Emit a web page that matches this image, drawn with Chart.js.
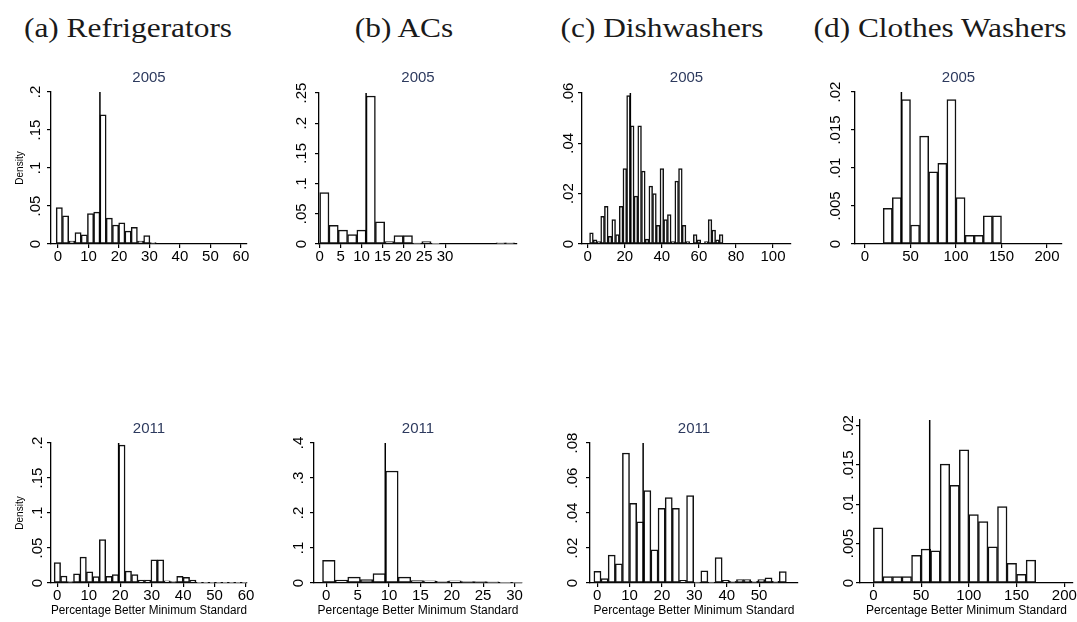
<!DOCTYPE html>
<html>
<head>
<meta charset="utf-8">
<script src="https://cdn.jsdelivr.net/npm/chart.js@4.4.1/dist/chart.umd.min.js"></script>
<style>
  body { margin: 0; width: 1077px; height: 622px; overflow: hidden; background: #fff; position: relative; }
  canvas { position: absolute; }
  .head { position: absolute; top: 12px; line-height: 32px; font-family: 'Liberation Serif', 'DejaVu Serif', serif;
          font-size: 28px; color: #1a1a1a; white-space: nowrap; transform: translateX(-50%) scaleX(1.12); }
</style>
</head>
<body>
<div class="head" style="left:128px">(a) Refrigerators</div>
<div class="head" style="left:404px">(b) ACs</div>
<div class="head" style="left:662px">(c) Dishwashers</div>
<div class="head" style="left:940px">(d) Clothes Washers</div>

<canvas id="fridge2005"></canvas>
<canvas id="ac2005"></canvas>
<canvas id="dish2005"></canvas>
<canvas id="washer2005"></canvas>
<canvas id="fridge2011"></canvas>
<canvas id="ac2011"></canvas>
<canvas id="dish2011"></canvas>
<canvas id="washer2011"></canvas>

<script>
// histogram data: bin origin, bin width, density per bin, position of the vertical marker line
const fridge2005Start = -0.6;
const fridge2005BinWidth = 2.05;
const fridge2005Density = [0.048, 0.037, 0.004, 0.015, 0.012, 0.040, 0.042, 0.170, 0.034, 0.025, 0.028, 0.017, 0.022, 0.004, 0.011, 0.002];
const fridge2005Marker = 13.75;

const fridge2011Start = -1;
const fridge2011BinWidth = 2.05;
const fridge2011Density = [0.029, 0.010, 0.002, 0.013, 0.037, 0.016, 0.009, 0.062, 0.0095, 0.012, 0.197, 0.017, 0.012, 0.004, 0.004, 0.033, 0.033, 0.003, 0.002, 0.0095, 0.008, 0.004, 0.001, 0.001, 0.001, 0.001, 0.001, 0.001, 0.001, 0.001];
const fridge2011Marker = 19.5;

const ac2005Start = 0;
const ac2005BinWidth = 2.22;
const ac2005Density = [0.085, 0.031, 0.023, 0.0155, 0.023, 0.245, 0.0365, 0.004, 0.014, 0.014, 0.0015, 0.004, 0.001, 0, 0, 0, 0, 0, 0, 0.002, 0.002];
const ac2005Marker = 11.1;

const ac2011Start = -0.6;
const ac2011BinWidth = 2.01;
const ac2011Density = [0.065, 0.008, 0.017, 0.0095, 0.027, 0.32, 0.017, 0.007, 0.006, 0.005, 0.006, 0.004, 0.004, 0.003, 0.002, 0.001];
const ac2011Marker = 9.4;

const dish2005Start = 1;
const dish2005BinWidth = 2;
const dish2005Density = [0.0044, 0.0017, 0.001, 0.011, 0.015, 0.003, 0.0097, 0.0037, 0.015, 0.030, 0.059, 0.047, 0.019, 0.047, 0.029, 0.002,
                         0.023, 0.020, 0.0074, 0.030, 0.0097, 0.0117, 0.001, 0.025, 0.030, 0.0074, 0.001, 0, 0.0037, 0.0017, 0, 0.001,
                         0.0097, 0.0055, 0.0017, 0.0037];
const dish2005Marker = 23;

const dish2011Start = -1;
const dish2011BinWidth = 2.2;
const dish2011Density = [0.0067, 0.0025, 0.0159, 0.011, 0.0743, 0.0455, 0.035, 0.0528, 0.019, 0.0427, 0.0488, 0.0427, 0.0015, 0.050,
                         0.0005, 0.0069, 0.0005, 0.0145, 0.0015, 0.001, 0.002, 0.002, 0.001, 0.002, 0.003, 0.001, 0.0065];
const dish2011Marker = 14.2;

const washer2005Start = 20;
const washer2005BinWidth = 10;
const washer2005Density = [0.0047, 0.0061, 0.019, 0.0025, 0.0142, 0.0095, 0.0106, 0.019, 0.0061, 0.00115, 0.00115, 0.0037, 0.0037];
const washer2005Marker = 40;

const washer2011Start = 0;
const washer2011BinWidth = 10;
const washer2011Density = [0.0070, 0.0008, 0.0008, 0.0008, 0.0035, 0.0043, 0.0041, 0.0151, 0.0124, 0.0169, 0.0087, 0.0078, 0.0046, 0.0097, 0.0025, 0.0011, 0.0029];
const washer2011Marker = 59;

// tick labels
const fridgeXTicks = [0, 10, 20, 30, 40, 50, 60];
const fridgeYTicks = [0, 0.05, 0.1, 0.15, 0.2];
const ac2005XTicks = [0, 5, 10, 15, 20, 25, 30];
const ac2011XTicks = [0, 5, 10, 15, 20, 25, 30];
const ac2005YTicks = [0, 0.05, 0.1, 0.15, 0.2, 0.25];
const ac2011YTicks = [0, 0.1, 0.2, 0.3, 0.4];
const dish2005XTicks = [0, 20, 40, 60, 80, 100];
const dish2011XTicks = [0, 10, 20, 30, 40, 50];
const dish2005YTicks = [0, 0.02, 0.04, 0.06];
const dish2011YTicks = [0, 0.02, 0.04, 0.06, 0.08];
const washerXTicks = [0, 50, 100, 150, 200];
const washerYTicks = [0, 0.005, 0.01, 0.015, 0.02];

const sansFont = "'Liberation Sans', Arial, sans-serif";
const tickFont = "'Liberation Sans Narrow', 'Liberation Sans', Arial, sans-serif";
const tickSize = 15;

function fmtTick(v) {
  return v === 0 ? '0' : String(v).replace(/^0\./, '.');
}

const measureCtx = document.createElement('canvas').getContext('2d');
function widestLabel(values) {
  measureCtx.font = tickSize + 'px ' + tickFont;
  return Math.max(...values.map(v => measureCtx.measureText(fmtTick(v)).width));
}

function makePanel(id, p) {
  const canvas = document.getElementById(id);
  const padRight = Math.min(12, 1077 - p.plotR);
  const xAxisH = p.xTitle ? 622 - p.plotB : 30;
  const yAxisW = p.plotL - p.colLeft;
  canvas.width = p.plotR - p.colLeft + padRight;
  canvas.height = p.plotB - p.rowTop + xAxisH;
  canvas.style.left = p.colLeft + 'px';
  canvas.style.top = p.rowTop + 'px';

  const bars = p.density.map((d, i) => ({ x: p.start + p.binWidth * (i + 0.5), y: d }));
  const titlePadTop = p.titleY ? p.titleY - p.rowTop - 9 : 0;

  new Chart(canvas.getContext('2d'), {
    type: 'bar',
    data: {
      datasets: [
        {
          type: 'line',
          order: 0,
          data: [{ x: p.marker, y: 0 }, { x: p.marker, y: p.ymax }],
          borderColor: '#000',
          borderWidth: 1.5,
          pointRadius: 0,
          fill: false,
        },
        {
          type: 'bar',
          order: 1,
          data: bars,
          backgroundColor: '#fff',
          borderColor: '#111',
          borderWidth: 1.5,
          borderSkipped: false,
          barPercentage: 1,
          categoryPercentage: 1,
        },
      ],
    },
    options: {
      responsive: false,
      animation: false,
      devicePixelRatio: 1,
      events: [],
      layout: { padding: { left: 0, right: padRight, top: p.titleY ? 0 : p.plotT - p.rowTop, bottom: 0 } },
      plugins: {
        legend: { display: false },
        tooltip: { enabled: false },
        title: p.titleY ? {
          display: true,
          text: p.title,
          fullSize: false,
          color: '#2d3a5e',
          font: { family: sansFont, size: 15, weight: 'normal', lineHeight: 1.2 },
          padding: { top: titlePadTop, bottom: p.plotT - p.rowTop - 18 - titlePadTop },
        } : { display: false },
      },
      scales: {
        x: {
          type: 'linear',
          min: p.xmin,
          max: p.xmax,
          offset: false,
          afterBuildTicks: s => { s.ticks = p.xTicks.map(v => ({ value: v })); },
          afterFit: s => { s.height = xAxisH; },
          ticks: {
            autoSkip: false, minRotation: 0, maxRotation: 0, padding: 0, color: '#000',
            font: { family: tickFont, size: tickSize, lineHeight: 1.2 },
            callback: v => fmtTick(v),
          },
          grid: { display: true, drawOnChartArea: false, drawTicks: true, tickLength: 4, color: '#000', lineWidth: 1.2, offset: false },
          border: { display: true, color: '#000', width: 1.3 },
          title: p.xTitle ? {
            display: true, text: 'Percentage Better Minimum Standard', color: '#000',
            font: { family: sansFont, size: 12, lineHeight: 1.2 }, padding: { top: 0, bottom: 4 },
          } : { display: false },
        },
        y: {
          type: 'linear',
          min: 0,
          max: p.ymax,
          afterBuildTicks: s => { s.ticks = p.yTicks.map(v => ({ value: v })); },
          afterFit: s => { s.width = yAxisW; },
          ticks: {
            autoSkip: false, minRotation: 90, maxRotation: 90, crossAlign: 'center', color: '#000',
            padding: p.labelOffset - 4 - widestLabel(p.yTicks) / 2,
            font: { family: tickFont, size: tickSize, lineHeight: 1.2 },
            callback: v => fmtTick(v),
          },
          grid: { display: true, drawOnChartArea: false, drawTicks: true, tickLength: 4, color: '#000', lineWidth: 1.2 },
          border: { display: true, color: '#000', width: 1.3 },
          title: p.densityTitle ? {
            display: true, text: 'Density', color: '#000',
            font: { family: sansFont, size: 10, lineHeight: 1.2 }, padding: { top: 14, bottom: 0 },
          } : { display: false },
        },
      },
    },
  });
}

// top row (2005)
makePanel('fridge2005', {
  colLeft: 0, rowTop: 60, plotL: 51, plotR: 247, plotT: 92, plotB: 244, titleY: 78, title: '2005',
  xmin: -2.3, xmax: 62, ymax: 0.2, xTicks: fridgeXTicks, yTicks: fridgeYTicks, labelOffset: 15,
  start: fridge2005Start, binWidth: fridge2005BinWidth, density: fridge2005Density, marker: fridge2005Marker,
  densityTitle: true, xTitle: false,
});
makePanel('ac2005', {
  colLeft: 270, rowTop: 60, plotL: 319, plotR: 517, plotT: 93, plotB: 244, titleY: 78, title: '2005',
  xmin: -0.17, xmax: 47.2, ymax: 0.25, xTicks: ac2005XTicks, yTicks: ac2005YTicks, labelOffset: 17,
  start: ac2005Start, binWidth: ac2005BinWidth, density: ac2005Density, marker: ac2005Marker,
  densityTitle: false, xTitle: false,
});
makePanel('dish2005', {
  colLeft: 540, rowTop: 60, plotL: 582, plotR: 791, plotT: 93, plotB: 244, titleY: 78, title: '2005',
  xmin: -3.1, xmax: 109.7, ymax: 0.06, xTicks: dish2005XTicks, yTicks: dish2005YTicks, labelOffset: 13,
  start: dish2005Start, binWidth: dish2005BinWidth, density: dish2005Density, marker: dish2005Marker,
  densityTitle: false, xTitle: false,
});
makePanel('washer2005', {
  colLeft: 810, rowTop: 60, plotL: 855, plotR: 1062, plotT: 92, plotB: 244, titleY: 78, title: '2005',
  xmin: -11, xmax: 216.5, ymax: 0.02, xTicks: washerXTicks, yTicks: washerYTicks, labelOffset: 19,
  start: washer2005Start, binWidth: washer2005BinWidth, density: washer2005Density, marker: washer2005Marker,
  densityTitle: false, xTitle: false,
});

// bottom row (2011)
makePanel('fridge2011', {
  colLeft: 0, rowTop: 400, plotL: 51, plotR: 247, plotT: 443, plotB: 583, titleY: 429, title: '2011',
  xmin: -2, xmax: 60.3, ymax: 0.2, xTicks: fridgeXTicks, yTicks: fridgeYTicks, labelOffset: 13,
  start: fridge2011Start, binWidth: fridge2011BinWidth, density: fridge2011Density, marker: fridge2011Marker,
  densityTitle: true, xTitle: true,
});
makePanel('ac2011', {
  colLeft: 270, rowTop: 400, plotL: 314, plotR: 522, plotT: 443, plotB: 583, titleY: 429, title: '2011',
  xmin: -1.96, xmax: 31.2, ymax: 0.4, xTicks: ac2011XTicks, yTicks: ac2011YTicks, labelOffset: 15,
  start: ac2011Start, binWidth: ac2011BinWidth, density: ac2011Density, marker: ac2011Marker,
  densityTitle: false, xTitle: true,
});
makePanel('dish2011', {
  colLeft: 540, rowTop: 400, plotL: 590, plotR: 798, plotT: 443, plotB: 583, titleY: 429, title: '2011',
  xmin: -2.2, xmax: 62, ymax: 0.08, xTicks: dish2011XTicks, yTicks: dish2011YTicks, labelOffset: 17,
  start: dish2011Start, binWidth: dish2011BinWidth, density: dish2011Density, marker: dish2011Marker,
  densityTitle: false, xTitle: true,
});
makePanel('washer2011', {
  colLeft: 810, rowTop: 400, plotL: 860, plotR: 1073, plotT: 420, plotB: 583, titleY: null, title: '',
  xmin: -14, xmax: 209, ymax: 0.0207, xTicks: washerXTicks, yTicks: washerYTicks, labelOffset: 11,
  start: washer2011Start, binWidth: washer2011BinWidth, density: washer2011Density, marker: washer2011Marker,
  densityTitle: false, xTitle: true,
});
</script>
</body>
</html>
